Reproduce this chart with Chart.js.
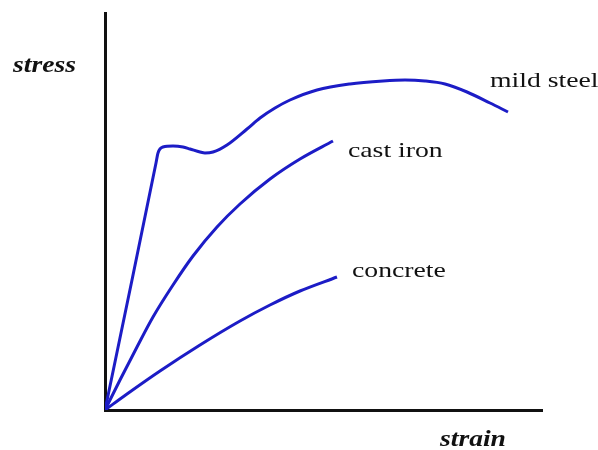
<!DOCTYPE html>
<html>
<head>
<meta charset="utf-8">
<script src="https://cdn.jsdelivr.net/npm/chart.js@4/dist/chart.umd.min.js"></script>
<style>
html,body{margin:0;padding:0;background:#fff;}
#wrap{width:598px;height:450px;}
</style>
</head>
<body>
<div id="wrap"><canvas id="c" width="598" height="450"></canvas></div>
<script>
// Curve data (arbitrary strain / stress units)
const mildSteelStrain = [0,27,51,53,58,68,78,85,95,100,108,122,142,155,170,185,212,245,278,300,320,340,362,385,403];
const mildSteelStress = [0,130,247,257,263,264,263,261,258,257,258,265,281,292,302,310,320,326,329,330,329,326,318,307,298];
const castIronStrain = [0,15,32,48,68,88,112,135,165,195,228];
const castIronStress = [0,30,63,93,125,154,183,206,231,251,269];
const concreteStrain = [0,22,55,95,135,165,195,232];
const concreteStress = [0,16,39,65,89,105,119,133];
const seriesNames = ['mild steel','cast iron','concrete'];
const axisTitles = {x:'strain', y:'stress'};

const toPts = (xs, ys) => xs.map((x,i)=>({x:x, y:ys[i]}));
const blue = '#1c1cc6';

const labelPlugin = {
  id:'labels',
  afterDatasetsDraw(chart){
    const ctx = chart.ctx;
    const ca = chart.chartArea;
    const offs = [[-18,-25],[15,16],[15,0]];
    ctx.save();
    ctx.fillStyle = '#111';
    ctx.textBaseline = 'alphabetic';
    ctx.textAlign = 'left';
    chart.data.datasets.forEach((ds,i)=>{
      const meta = chart.getDatasetMeta(i);
      const last = meta.data[meta.data.length-1];
      ctx.save();
      ctx.translate(last.x + offs[i][0], last.y + offs[i][1]);
      ctx.scale(1.26,1);
      ctx.font = '22px "Liberation Serif", "Times New Roman", serif';
      ctx.fillText(ds.label, 0, 0);
      ctx.restore();
    });
    // axis titles
    ctx.font = 'italic bold 24px "Liberation Serif", "Times New Roman", serif';
    ctx.save();
    ctx.translate(ca.left - 92, ca.top + 59);
    ctx.scale(1.15,1);
    ctx.fillText(axisTitles.y, 0, 0);
    ctx.restore();
    ctx.save();
    ctx.translate(ca.right - 102, ca.bottom + 36);
    ctx.scale(1.15,1);
    ctx.fillText(axisTitles.x, 0, 0);
    ctx.restore();
    ctx.restore();
  }
};

const ds = (label, xs, ys) => ({
  label: label,
  data: toPts(xs, ys),
  borderColor: blue,
  borderWidth: 3,
  pointRadius: 0,
  fill: false,
  cubicInterpolationMode: 'monotone'
});

new Chart(document.getElementById('c'), {
  type:'line',
  data:{
    datasets:[
      ds(seriesNames[0], mildSteelStrain, mildSteelStress),
      ds(seriesNames[1], castIronStrain, castIronStress),
      ds(seriesNames[2], concreteStrain, concreteStress)
    ]
  },
  options:{
    responsive:false,
    animation:false,
    layout:{padding:{left:105,right:56,top:13,bottom:40}},
    plugins:{legend:{display:false}, tooltip:{enabled:false}},
    scales:{
      x:{type:'linear', min:0, max:437,
         ticks:{display:false}, grid:{display:false, drawTicks:false},
         border:{display:true, color:'#111', width:3}},
      y:{type:'linear', min:0, max:397,
         ticks:{display:false}, grid:{display:false, drawTicks:false},
         border:{display:true, color:'#111', width:3}}
    }
  },
  plugins:[labelPlugin]
});
</script>
</body>
</html>
